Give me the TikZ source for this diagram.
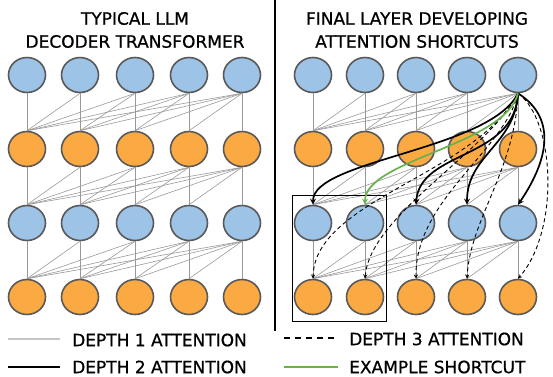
\documentclass[tikz,border=0pt]{standalone}
\usepackage{fontspec}
\setmainfont{DejaVu Sans}
\newfontface\labelfont{DejaVu Sans}[FakeBold=0.7]
\usepackage{tikz}
\usetikzlibrary{shapes.geometric, arrows}
\definecolor{tokblue}{RGB}{157,195,230}
\definecolor{tokorange}{RGB}{251,170,67}
\definecolor{tokedge}{RGB}{89,89,89}
\definecolor{shortgreen}{RGB}{104,178,76}
\tikzstyle{token} = [ellipse, draw=tokedge, line width=1.6pt, minimum width=37pt, minimum height=35pt, inner sep=0pt]
\tikzstyle{bluenode} = [token, fill=tokblue]
\tikzstyle{orangenode} = [token, fill=tokorange]
\tikzstyle{title} = [align=center, inner sep=0pt, font=\labelfont\fontsize{17}{23}\selectfont]
\tikzstyle{key} = [anchor=west, inner sep=0pt, font=\labelfont\fontsize{17}{20}\selectfont]
\tikzstyle{depthone} = [color=gray!80, line width=0.6pt]
\tikzstyle{depthtwo} = [line width=1.7pt,->,>=stealth]
\tikzstyle{depththree} = [line width=0.9pt,->,>=stealth, dash pattern=on 4pt off 3pt]
\tikzstyle{shortcut} = [line width=1.7pt,->,>=stealth, color=shortgreen]

\begin{document}
\begin{tikzpicture}[x=1pt, y=-1pt, node distance=74pt]
  \useasboundingbox (0,0) rectangle (553,376);

  \node (lefttitle) [title] at (135,30) {TYPICAL LLM\\DECODER TRANSFORMER};
  \node (righttitle) [title] at (417,30) {FINAL LAYER DEVELOPING\\ATTENTION SHORTCUTS};

  \foreach \c/\x in {1/27, 2/80, 3/135, 4/189, 5/242} {
    \node (l1\c) [bluenode] at (\x,75) {};
    \node (l2\c) [orangenode, below of=l1\c] {};
    \node (l3\c) [bluenode, below of=l2\c] {};
    \node (l4\c) [orangenode, below of=l3\c] {};
  }
  \foreach \c/\x in {1/313, 2/365, 3/416, 4/467, 5/518} {
    \node (r1\c) [bluenode] at (\x,75) {};
    \node (r2\c) [orangenode, below of=r1\c] {};
    \node (r3\c) [bluenode, below of=r2\c] {};
    \node (r4\c) [orangenode, below of=r3\c] {};
  }

  \foreach \r/\s in {1/2, 2/3, 3/4}
    \foreach \j in {1,...,5}
      \foreach \i in {1,...,\j} {
        \draw [depthone] (l\r\j.south) -- (l\s\i.north);
        \draw [depthone] (r\r\j.south) -- (r\s\i.north);
      }

  \draw [line width=1.5pt] (275,0) -- (275,331);
  \draw [line width=0.9pt] (292,195) rectangle (386,321);

  \draw [depththree] (r15.south) .. controls (475,175) and (315,200) .. (r41.north);
  \draw [depththree] (r15.south) .. controls (490,150) and (370,215) .. (r42.north);
  \draw [depththree] (r15.south) .. controls (505,150) and (415,200) .. (r43.north);
  \draw [depththree] (r15.south) .. controls (515,170) and (470,220) .. (r44.north);
  \draw [depththree] (r15.south) .. controls (555,120) and (560,230) .. (r45.north);

  \draw [depthtwo] (r15.south) .. controls (490,150) and (313,160) .. (r31.north);
  \draw [depthtwo] (r15.south) .. controls (515,160) and (420,150) .. (r33.north);
  \draw [depthtwo] (r15.south) .. controls (515,145) and (467,155) .. (r34.north);
  \draw [depthtwo] (r15.south) .. controls (560,120) and (545,165) .. (r35.north);
  \draw [shortcut] (r15.south) .. controls (505,145) and (365,160) .. (r32.north);

  \coordinate (k1a) at (8,339);
  \coordinate (k1b) at (60,339);
  \coordinate (k2a) at (8,367);
  \coordinate (k2b) at (60,367);
  \coordinate (k3a) at (284,338);
  \coordinate (k3b) at (338,338);
  \coordinate (k4a) at (284,367);
  \coordinate (k4b) at (338,367);
  \draw [depthone, line width=1.5pt, color=gray!45] (k1a) -- (k1b);
  \draw [depthtwo, -] (k2a) -- (k2b);
  \draw [depththree, -, line width=1.3pt, dash pattern=on 6pt off 5pt] (k3a) -- (k3b);
  \draw [shortcut, -, line width=2pt] (k4a) -- (k4b);
  \node (key1) [key] at (72,340) {DEPTH 1 ATTENTION};
  \node (key2) [key] at (72,367) {DEPTH 2 ATTENTION};
  \node (key3) [key] at (349,339) {DEPTH 3 ATTENTION};
  \node (key4) [key] at (349,367) {EXAMPLE SHORTCUT};
\end{tikzpicture}
\end{document}
